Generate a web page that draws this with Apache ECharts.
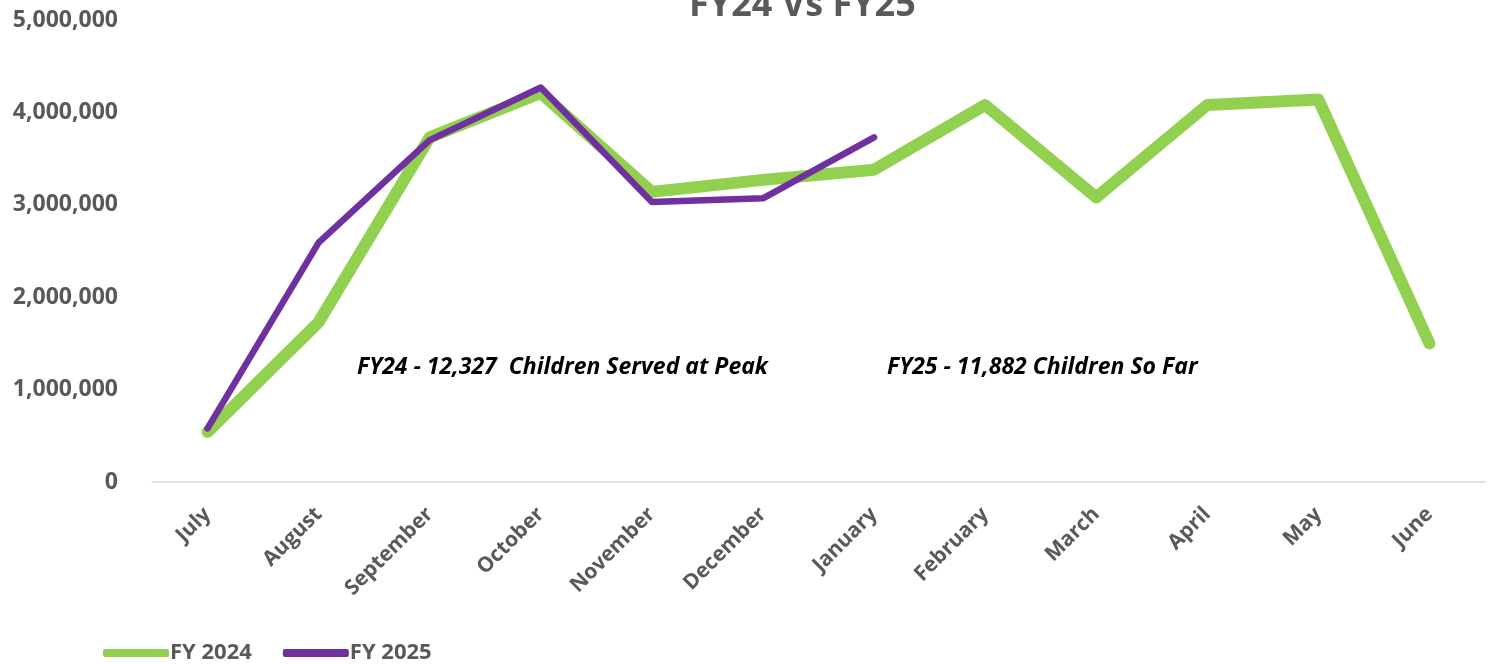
<!DOCTYPE html>
<html><head><meta charset="utf-8">
<script src="https://cdn.jsdelivr.net/npm/echarts@6/dist/echarts.min.js"></script>
<style>html,body{margin:0;padding:0;background:#fff}#c{width:1489px;height:664px}</style>
</head><body><div id="c"></div>
<script>
const categories = ['July','August','September','October','November','December','January','February','March','April','May','June'];
const fy2024 = [540000, 1730000, 3730000, 4210000, 3140000, 3270000, 3380000, 4080000, 3080000, 4080000, 4140000, 1500000];
const fy2025 = [580000, 2590000, 3700000, 4270000, 3030000, 3070000, 3730000];
const yTicks = { min: 0, max: 5000000, interval: 1000000 };
const titleText = 'FY24 Vs FY25';
const notes = ['FY24 - 12,327  Children Served at Peak', 'FY25 - 11,882 Children So Far'];

const chart = echarts.init(document.getElementById('c'));
const gray = '#595959';
const font = '"Open Sans", "Liberation Sans", sans-serif';
chart.setOption({
  animation: false,
  title: { text: titleText, left: 684, top: -17, textStyle: { color: gray, fontSize: 36, fontWeight: 'bold', fontFamily: font } },
  grid: { left: 152, right: 4, top: 20, bottom: 182 },
  legend: {
    left: 98, bottom: -5, icon: 'roundRect', itemWidth: 66, itemHeight: 8, itemGap: 31,
    textStyle: { color: gray, fontSize: 22, fontWeight: 'bold', fontFamily: font, padding: [0,0,0,-4] },
    data: ['FY 2024', 'FY 2025']
  },
  xAxis: {
    type: 'category', data: categories, boundaryGap: true,
    axisLine: { lineStyle: { color: '#d9d9d9', width: 1.5 } },
    axisTick: { show: false },
    axisLabel: { rotate: 45, margin: 29, color: gray, fontSize: 21, fontWeight: 'bold', fontFamily: font, interval: 0 }
  },
  yAxis: {
    type: 'value', min: yTicks.min, max: yTicks.max, interval: yTicks.interval,
    splitLine: { show: false }, axisLine: { show: false }, axisTick: { show: false },
    axisLabel: { margin: 34, color: gray, fontSize: 23, fontWeight: 'bold', fontFamily: font,
      formatter: v => v.toLocaleString('en-US') }
  },
  graphic: [
    { type: 'text', left: 357, top: 356, style: { text: notes[0], fill: '#000', font: 'italic bold 23px "Open Sans", sans-serif' } },
    { type: 'text', left: 887, top: 356, style: { text: notes[1], fill: '#000', font: 'italic bold 23px "Open Sans", sans-serif' } }
  ],
  series: [
    { name: 'FY 2024', type: 'line', data: fy2024, symbol: 'none', color: '#92D050',
      lineStyle: { width: 12, color: '#92D050', join: 'round', cap: 'round' } },
    { name: 'FY 2025', type: 'line', data: fy2025, symbol: 'none', color: '#7030A0',
      lineStyle: { width: 6.5, color: '#7030A0', join: 'round', cap: 'round' } }
  ]
});
</script></body></html>
